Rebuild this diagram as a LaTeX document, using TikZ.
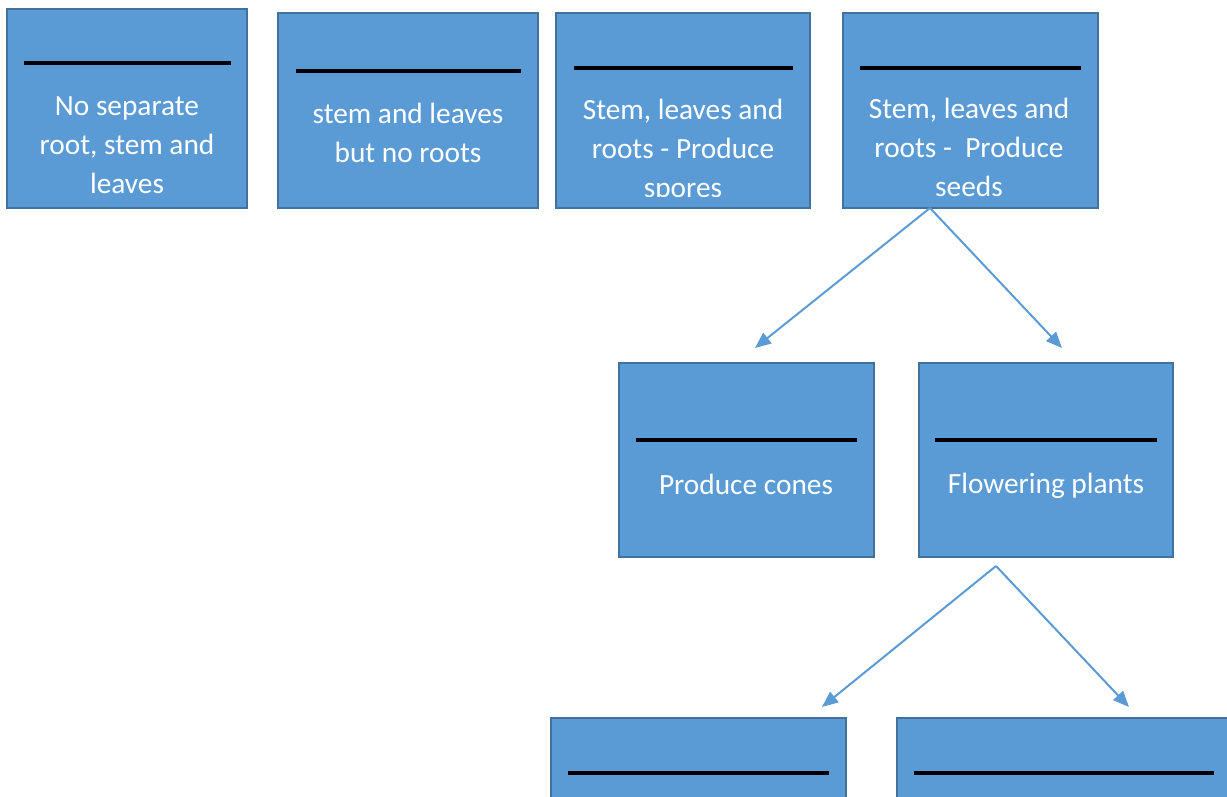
\documentclass[tikz,border=0pt]{standalone}
\usepackage{fontspec}
\setmainfont{Carlito}
\usetikzlibrary{arrows.meta}
\definecolor{boxfill}{HTML}{5B9BD5}
\definecolor{boxedge}{HTML}{41719C}
\begin{document}
\begin{tikzpicture}[x=0.75pt,y=-0.75pt,
  box/.style={draw=boxedge,fill=boxfill,line width=1.8pt,inner sep=0pt},
  rule/.style={line width=3pt,black},
  lbl/.style={text=white,align=center,inner sep=0pt,font=\fontsize{22}{29.25}\selectfont},
  link/.style={draw=boxfill,line width=1.5pt,-{Triangle[length=12pt,width=10pt]}}]
\useasboundingbox (0,0) rectangle (1227,796);
% boxes
\node[box,minimum width=180pt,minimum height=149.25pt] (b1) at (127,108.5) {};
\node[box,minimum width=195pt,minimum height=146.25pt] (b2) at (408,110.5) {};
\node[box,minimum width=190.5pt,minimum height=146.25pt] (b3) at (683,110.5) {};
\node[box,minimum width=191.25pt,minimum height=146.25pt] (b4) at (970.5,110.5) {};
\node[box,minimum width=191.25pt,minimum height=145.5pt] (b5) at (746.5,460) {};
\node[box,minimum width=190.5pt,minimum height=145.5pt] (b6) at (1046,460) {};
\node[box,minimum width=221.25pt,minimum height=76.5pt] (b7) at (698.5,769) {};
\node[box,minimum width=257.25pt,minimum height=76.5pt] (b8) at (1068.5,769) {};
% rules
\draw[rule] (24,63) -- (231,63);
\draw[rule] (296,71) -- (521,71);
\draw[rule] (574,68) -- (793,68);
\draw[rule] (860,68) -- (1081,68);
\draw[rule] (636,440) -- (857,440);
\draw[rule] (935,440) -- (1157,440);
\draw[rule] (568,773) -- (829,773);
\draw[rule] (914,773) -- (1214,773);
% labels
\node[lbl] (t1) at (127,145) {No separate\\root, stem and\\leaves};
\node[lbl] (t2) at (408,133) {stem and leaves\\but no roots};
\begin{scope}
\clip (556,13) rectangle (810,196);
\node[lbl] (t3) at (683,151) {Stem, leaves and\\roots - Produce\\spores};
\end{scope}
\node[lbl] (t4) at (969,147) {Stem, leaves and\\roots -\ \ Produce\\seeds};
\node[lbl] (t5) at (746,484) {Produce cones};
\node[lbl] (t6) at (1046,486) {Flowering plants};
% connectors
\coordinate (s1) at (930,208);
\coordinate (e1) at (755,348);
\coordinate (e2) at (1062,348);
\coordinate (s2) at (996,566);
\coordinate (e3) at (822,707);
\coordinate (e4) at (1129,707);
\draw[link] (s1) -- (e1);
\draw[link] (s1) -- (e2);
\draw[link] (s2) -- (e3);
\draw[link] (s2) -- (e4);
\end{tikzpicture}
\end{document}
